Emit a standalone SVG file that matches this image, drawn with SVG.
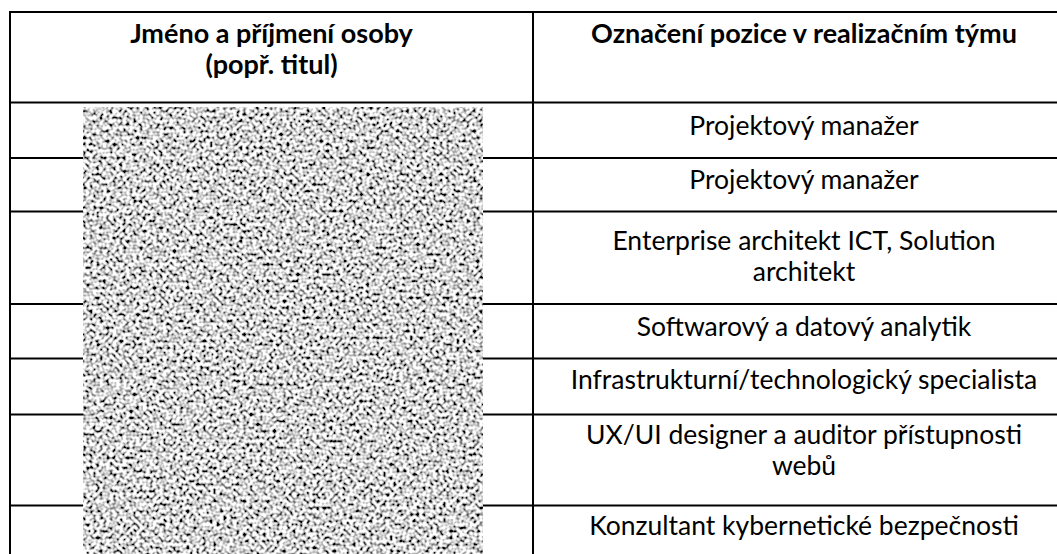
<svg xmlns="http://www.w3.org/2000/svg" width="1057" height="554" viewBox="0 0 1057 554">
<style>
.grid line{stroke:#000;stroke-width:2}
text{font-family:Lato,"Liberation Sans",sans-serif;fill:#000;text-anchor:middle}
.h{font-weight:bold;font-size:27px}
.c{font-size:26.5px}
</style>
<defs>
<filter id="noise" x="0" y="0" width="100%" height="100%" filterUnits="objectBoundingBox">
<feTurbulence type="fractalNoise" baseFrequency="0.3" numOctaves="1" seed="7" result="t"/>
<feColorMatrix in="t" type="matrix" values="3.2 0 0 0 -0.95  3.2 0 0 0 -0.95  3.2 0 0 0 -0.95  0 0 0 0 1"/>
</filter>
</defs>
<rect width="1057" height="554" fill="#fff"/>
<g id="grid" class="grid">
<line x1="10" y1="12" x2="1057" y2="12"/>
<line x1="10" y1="11" x2="10" y2="554"/>
<line x1="533" y1="11" x2="533" y2="554"/>
<line x1="10" y1="102.5" x2="1057" y2="102.5"/>
<line x1="10" y1="158" x2="1057" y2="158"/>
<line x1="10" y1="211.5" x2="1057" y2="211.5"/>
<line x1="10" y1="304" x2="1057" y2="304"/>
<line x1="10" y1="358.5" x2="1057" y2="358.5"/>
<line x1="10" y1="414.5" x2="1057" y2="414.5"/>
<line x1="10" y1="505.5" x2="1057" y2="505.5"/>
</g>
<g id="redaction">
<rect x="83" y="107" width="400" height="447" fill="#888" filter="url(#noise)"/>
</g>
<g id="header-name">
<text class="h" x="271.5" y="43">Jméno a příjmení osoby</text>
<text class="h" x="271.5" y="74">(popř. titul)</text>
</g>
<g id="header-position">
<text class="h" x="804" y="43">Označení pozice v realizačním týmu</text>
</g>
<g id="row1"><text class="c" x="804" y="135">Projektový manažer</text></g>
<g id="row2"><text class="c" x="804" y="189">Projektový manažer</text></g>
<g id="row3">
<text class="c" x="804" y="250">Enterprise architekt ICT, Solution</text>
<text class="c" x="804" y="281">architekt</text>
</g>
<g id="row4"><text class="c" x="804" y="336">Softwarový a datový analytik</text></g>
<g id="row5"><text class="c" x="804" y="389">Infrastrukturní/technologický specialista</text></g>
<g id="row6">
<text class="c" x="804" y="444">UX/UI designer a auditor přístupnosti</text>
<text class="c" x="804" y="475">webů</text>
</g>
<g id="row7"><text class="c" x="804" y="535">Konzultant kybernetické bezpečnosti</text></g>
</svg>
